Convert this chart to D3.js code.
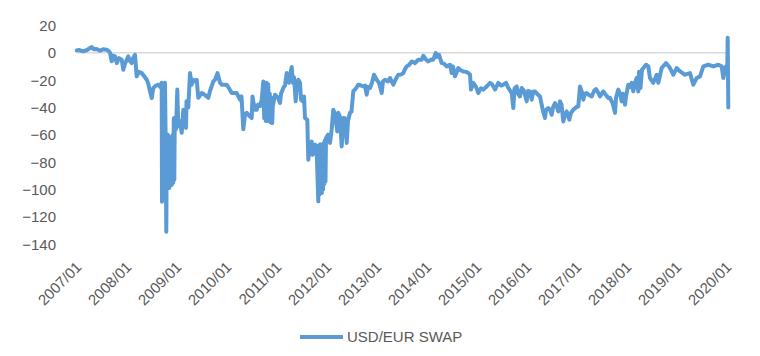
<!DOCTYPE html>
<html><head><meta charset="utf-8">
<script src="https://cdn.jsdelivr.net/npm/d3@7"></script>
<style>
body{margin:0;background:#fff;}
text{font-family:"Liberation Sans",Arial,sans-serif;fill:#595959;}
</style>
</head><body>
<svg id="chart" width="760" height="356"></svg>
<script>
// decimal years (time of each observation)
const dates = [
2007.014,2007.06,2007.14,2007.22,2007.314,2007.36,2007.414,2007.48,2007.54,2007.614,2007.66,2007.68,2007.714,2007.74,2007.78,2007.814,2007.86,2007.914,2007.946,2007.98,
2008.046,2008.08,2008.114,2008.14,2008.18,2008.214,2008.26,2008.314,2008.36,2008.414,2008.44,2008.48,2008.514,2008.546,2008.6,2008.646,2008.68,
2008.714,2008.72,2008.732,2008.744,2008.756,2008.768,2008.78,2008.792,2008.806,2008.816,2008.826,2008.836,2008.846,2008.856,2008.866,2008.876,2008.886,2008.896,2008.906,2008.916,2008.926,2008.936,2008.946,2008.956,2008.966,2008.976,2008.98,
2009.0,2009.026,2009.046,2009.08,2009.114,2009.146,2009.18,2009.2,2009.21,2009.246,2009.28,2009.314,2009.346,2009.38,2009.414,2009.446,2009.514,2009.546,2009.58,2009.646,2009.68,2009.746,2009.78,2009.83,2009.88,2009.92,
2010.014,2010.06,2010.114,2010.214,2010.28,2010.31,2010.346,2010.38,2010.414,2010.46,2010.514,2010.53,2010.546,2010.58,2010.614,2010.64,2010.68,2010.714,
2010.746,2010.764,2010.78,2010.796,2010.812,2010.828,2010.844,2010.86,2010.876,2010.892,2010.908,2010.924,2010.936,2010.98,
2011.04,2011.08,2011.1,2011.146,2011.18,2011.214,2011.24,2011.26,2011.29,2011.314,2011.34,2011.36,2011.394,2011.42,2011.446,2011.48,2011.5,2011.534,2011.56,2011.58,2011.626,2011.646,2011.68,2011.714,2011.734,2011.78,2011.81,
2011.846,2011.858,2011.87,2011.882,2011.894,2011.906,2011.918,2011.93,2011.942,2011.954,2011.966,2011.978,2011.99,
2012.0,2012.04,2012.08,2012.114,2012.146,2012.18,2012.226,2012.246,2012.28,2012.314,2012.346,2012.38,2012.414,2012.44,2012.48,2012.51,2012.546,2012.6,2012.646,2012.7,2012.746,2012.78,2012.814,2012.84,2012.88,2012.92,2012.96,
2013.014,2013.06,2013.114,2013.14,2013.18,2013.24,2013.28,2013.346,2013.4,2013.446,2013.5,2013.546,2013.58,2013.614,2013.66,2013.714,2013.76,2013.78,2013.846,2013.914,2013.946,
2014.0,2014.046,2014.1,2014.146,2014.194,2014.22,2014.26,2014.314,2014.36,2014.414,2014.48,2014.514,2014.54,2014.58,2014.646,2014.7,2014.746,2014.8,2014.846,2014.88,2014.9,2014.946,
2015.0,2015.046,2015.1,2015.146,2015.214,2015.28,2015.32,2015.38,2015.446,2015.5,2015.546,2015.6,2015.646,2015.714,2015.746,2015.77,2015.814,2015.84,2015.88,2015.914,2015.96,
2016.014,2016.04,2016.08,2016.114,2016.146,2016.18,2016.22,2016.28,2016.334,2016.38,2016.4,2016.446,2016.48,2016.514,2016.54,2016.58,2016.62,2016.646,2016.68,2016.71,2016.746,2016.78,2016.814,2016.866,2016.9,2016.946,
2017.0,2017.046,2017.08,2017.12,2017.146,2017.18,2017.214,2017.26,2017.314,2017.36,2017.4,2017.44,2017.48,2017.546,2017.6,2017.646,2017.68,2017.714,2017.74,2017.78,2017.8,2017.846,2017.88,2017.914,2017.94,2017.98,
2018.0,2018.046,2018.08,2018.114,2018.146,2018.18,2018.214,2018.246,2018.26,2018.29,2018.32,2018.4,2018.446,2018.48,2018.546,2018.614,2018.646,2018.714,2018.8,2018.88,2018.946,
2019.014,2019.08,2019.18,2019.28,2019.346,2019.414,2019.48,2019.546,2019.646,2019.746,2019.846,2019.914,2019.946,
2020.0,2020.026,2020.034,2020.046
];
const values = [
1.7,2,1,2,4.2,2.5,2.7,1.5,2.5,2.2,1,0,-6.3,-2,-2.7,-7.6,-4,-5.1,-12.4,-8,
-2.7,-6,-7.6,-4,-1.5,-17.3,-14,-14.9,-17,-19.8,-22,-28.3,-33.2,-25.8,-24,-23.4,-25,
-22,-109,-25,-105,-23,-100,-22,-60,-131,-62,-99,-60,-98,-61,-99,-62,-97,-64,-97,-63,-96,-60,-95,-48,-93,-47.6,-49,
-56,-27,-54,-50,-58.6,-41.7,-51,-55,-35.6,-40,-14.9,-23.4,-19.8,-21,-19.8,-33,-29.5,-30,-31,-33,-28,-21,-19.8,-14.9,-22,-23.4,
-23.4,-26,-29.5,-29.5,-34.4,-32,-56,-45,-44,-46,-47.8,-32,-35.6,-41.7,-41.7,-38,-39,-34.4,
-21,-48,-22,-50,-22,-50,-23,-49,-30,-51,-33,-51.5,-39,-30.7,
-33,-36.8,-30,-25.8,-24,-14.9,-20,-22,-15,-10.5,-22,-18,-35.6,-22,-19.8,-22,-34.4,-35.6,-32,-47.8,-49,-78.3,-68,-65,-74.7,-67.3,-68,
-108.8,-68,-104,-67,-103,-68,-102.7,-67,-100,-66,-96,-64,-94,
-62.5,-60,-66,-56,-41.7,-45,-57.6,-44,-47,-68.6,-47.8,-48,-66,-50,-44,-43,-28.3,-26,-23.4,-24,-24.7,-24,-30.7,-25,-25.8,-22,-16.1,
-19.8,-22,-29.5,-21,-19.8,-21,-18.5,-23.4,-19,-16.1,-16,-14.9,-12,-10,-9,-6.4,-7,-7.6,-5.1,-5.1,-2.2,
-5,-6.4,-5,-5.1,-0.2,-3,-1.5,-7.6,-8,-10,-8.8,-14.9,-10,-17.3,-11.2,-13,-13.7,-14,-14.9,-16,-27,-22,
-25,-29.5,-26,-27,-24.7,-22,-23,-27,-22,-24,-23.4,-22,-25.8,-29.5,-40.5,-26,-24.7,-30,-32,-25.8,-28,
-35.6,-28,-28.3,-34.4,-28.3,-28.3,-30,-32,-41.7,-47.8,-42,-40.5,-42,-45.4,-40,-36.8,-40,-43,-35.6,-38,-50.3,-45,-43,-49,-44,-41.7,
-40,-39.3,-24.7,-29,-34.4,-30,-29.5,-31,-32,-28,-26.6,-29,-32,-28.3,-31,-33.2,-33,-35.6,-38,-44,-33,-27,-30,-35.6,-30,-38,
-32,-23.4,-25,-22,-28.3,-22,-18.5,-28.3,-14,-25.8,-12.4,-8.8,-10,-18.5,-22,-16.1,-22,-11.2,-7.6,-11.2,-16.1,
-11.2,-13.7,-16.1,-14.9,-23.4,-18.5,-17.3,-10,-8.8,-10,-8.8,-10,-18.5,
-10,-11,11,-40
];
const yTicks = [20,0,-20,-40,-60,-80,-100,-120,-140];
const xTickYears = [2007,2008,2009,2010,2011,2012,2013,2014,2015,2016,2017,2018,2019,2020];
const xTickLabels = ["2007/01","2008/01","2009/01","2010/01","2011/01","2012/01","2013/01","2014/01","2015/01","2016/01","2017/01","2018/01","2019/01","2020/01"];
const seriesName = "USD/EUR SWAP";

const lineColor = "#5B9BD5";
const svg = d3.select("#chart");
const x = d3.scaleLinear().domain([2007, 2020]).range([76, 726]);
const y = d3.scaleLinear().domain([-140, 20]).range([244, 25.4]);
const n = Math.min(dates.length, values.length);
const data = dates.slice(0, n).map((d,i)=>({t:d, v:values[i]}));

// y axis labels
const yAxis = d3.axisLeft(y).tickValues(yTicks).tickSize(0).tickPadding(0).tickFormat(d3.format("d"));
const gy = svg.append("g").attr("transform","translate(56,0)").call(yAxis);
gy.select(".domain").remove();
gy.selectAll("text").attr("font-size",15).style("fill","#595959")
  .attr("font-family","Liberation Sans, Arial, sans-serif").attr("dy","0.35em");

// zero axis line
svg.append("line")
  .attr("x1", x(dates[0])).attr("x2", x(dates[n-1]))
  .attr("y1", y(0)).attr("y2", y(0))
  .attr("stroke","#D9D9D9").attr("stroke-width",1.5);

// x axis labels
const xAxis = d3.axisBottom(x).tickValues(xTickYears).tickSize(0)
  .tickFormat((d,i)=>xTickLabels[i]);
const gx = svg.append("g").attr("transform","translate(0,266)").call(xAxis);
gx.select(".domain").remove();
gx.selectAll("text")
  .attr("font-size",15).style("fill","#595959")
  .attr("font-family","Liberation Sans, Arial, sans-serif")
  .attr("text-anchor","end").attr("x",0).attr("y",0).attr("dy",0)
  .attr("transform","translate(6,2) rotate(-45)");

// line
const line = d3.line().x(d=>x(d.t)).y(d=>y(d.v));
svg.append("path").datum(data)
  .attr("d", line).attr("fill","none")
  .attr("stroke", lineColor).attr("stroke-width",4)
  .attr("stroke-linejoin","round").attr("stroke-linecap","round");

// legend
const lg = svg.append("g").attr("transform","translate(300,337)");
lg.append("line").attr("x1",0).attr("x2",43).attr("y1",0).attr("y2",0)
  .attr("stroke",lineColor).attr("stroke-width",4);
lg.append("text").attr("x",47).attr("y",0).attr("dy","0.35em")
  .attr("font-size",15).text(seriesName);
</script>
</body></html>
